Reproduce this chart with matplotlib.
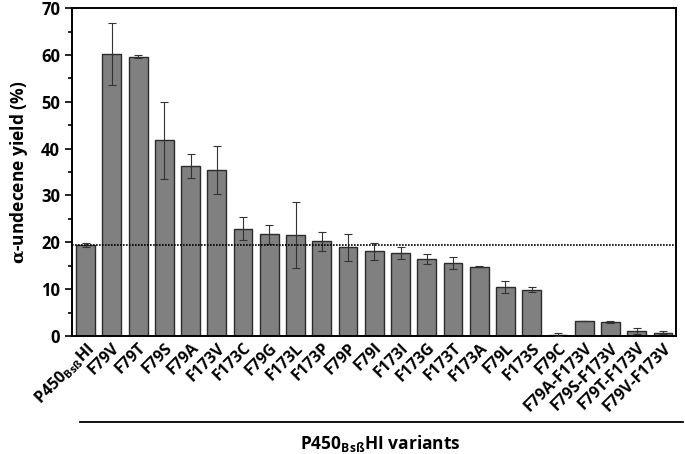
import matplotlib
matplotlib.use("Agg")
import matplotlib.pyplot as plt
from matplotlib.lines import Line2D
from matplotlib.ticker import MultipleLocator

plt.rcParams.update({
    'font.family': ['Open Sans', 'DejaVu Sans'],
    'font.weight': 'bold',
    'axes.labelweight': 'bold',
    'mathtext.fontset': 'custom',
    'mathtext.rm': 'DejaVu Serif',
    'mathtext.bf': 'Open Sans:bold',
    'mathtext.default': 'bf',
})

variants = ['P450$_{Bsß}$HI', 'F79V', 'F79T', 'F79S', 'F79A', 'F173V', 'F173C', 'F79G',
            'F173L', 'F173P', 'F79P', 'F79I', 'F173I', 'F173G', 'F173T', 'F173A',
            'F79L', 'F173S', 'F79C', 'F79A-F173V', 'F79S-F173V', 'F79T-F173V', 'F79V-F173V']
yields = [19.4, 60.2, 59.6, 41.8, 36.3, 35.5, 22.9, 21.7, 21.6, 20.2, 18.9, 18.1,
          17.8, 16.4, 15.5, 14.8, 10.5, 9.9, 0.3, 3.3, 3.0, 1.0, 0.7]
errors = [0.5, 6.6, 0.3, 8.2, 2.6, 5.1, 2.4, 2.0, 7.0, 2.0, 2.8, 1.8,
          1.3, 1.0, 1.3, 0.1, 1.3, 0.6, 0.3, 0.0, 0.2, 0.6, 0.3]
wt_level = 19.5

fig = plt.figure(figsize=(6.85, 4.54), dpi=100)
ax = fig.add_axes([0.105, 0.26, 0.882, 0.722])

x = list(range(len(variants)))
ax.bar(x, yields, width=0.72, color='#808080', edgecolor='#2b2b2b', linewidth=1.0, zorder=2)
ax.errorbar(x, yields, yerr=errors, fmt='none', ecolor='#333333', elinewidth=0.8,
            capsize=3, capthick=0.8, zorder=3)
ax.axhline(wt_level, color='black', linestyle=(0, (1, 0.8)), linewidth=1.2, zorder=4)

ax.set_xlim(-0.52, len(variants) - 0.5)
ax.set_ylim(0, 70)
ax.yaxis.set_major_locator(MultipleLocator(10))
ax.yaxis.set_minor_locator(MultipleLocator(5))
ax.tick_params(axis='y', which='major', length=5, width=1.2, labelsize=12)
ax.tick_params(axis='y', which='minor', length=3, width=1.2)
ax.tick_params(axis='x', length=0, pad=3)
ax.set_xticks(x)
ax.set_xticklabels(variants, rotation=45, ha='right', rotation_mode='anchor', fontsize=11.5)
for s in ax.spines.values():
    s.set_linewidth(1.4)

ax.set_ylabel('$\\mathrm{\\alpha}$-undecene yield (%)', fontsize=12.5, labelpad=8)

fig.add_artist(Line2D([0.117, 0.997], [0.071, 0.071], color='black', linewidth=1.3))
fig.text(0.555, 0.024, 'P450$_{Bsß}$HI variants', ha='center', va='center', fontsize=12.5)

fig.savefig('out.png', dpi=100)
